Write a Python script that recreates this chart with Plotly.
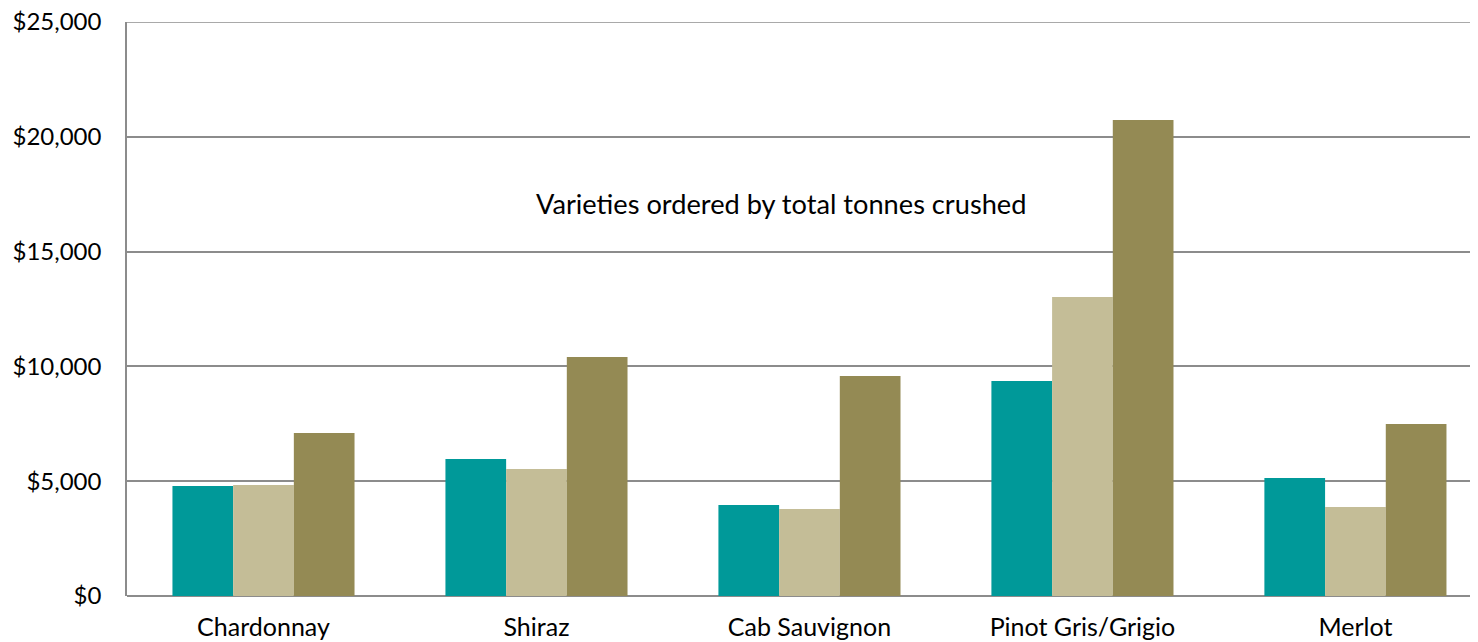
import plotly.graph_objects as go

categories = ["Chardonnay", "Shiraz", "Cab Sauvignon", "Pinot Gris/Grigio", "Merlot"]
series_names = ["Series 1", "Series 2", "Series 3"]
series1 = [4790, 5970, 3960, 9360, 5140]
series2 = [4830, 5530, 3790, 13020, 3880]
series3 = [7100, 10410, 9580, 20730, 7490]
colors = ["#009999", "#C4BD97", "#948A54"]
y_ticks = [0, 5000, 10000, 15000, 20000, 25000]
y_max = 25000
annotation_text = "Varieties ordered by total tonnes crushed"

fig = go.Figure()
for name, vals, col in zip(series_names, [series1, series2, series3], colors):
    fig.add_trace(go.Bar(x=categories, y=vals, name=name, marker=dict(color=col, line=dict(width=0))))

fig.update_layout(
    width=1470, height=634,
    margin=dict(l=119, r=0, t=14, b=46),
    barmode="group", bargap=0.333, bargroupgap=0,
    plot_bgcolor="white", paper_bgcolor="white",
    showlegend=False,
    font=dict(family="Lato", color="black"),
    xaxis=dict(range=[-0.5, 4.449], showgrid=False, showline=False, ticks="",
               tickfont=dict(size=25), ticklabelstandoff=14, ticklabeloverflow="allow",
               automargin=False),
    yaxis=dict(range=[0, y_max], tickvals=y_ticks, tickformat="$,.0f",
               showgrid=True, gridcolor="#8C8C8C", gridwidth=1.5,
               showline=True, linecolor="#8C8C8C", linewidth=1.5,
               zeroline=True, zerolinecolor="#8C8C8C", zerolinewidth=1.5,
               ticks="", tickfont=dict(size=24), ticklabelstandoff=19,
               ticklabeloverflow="allow", automargin=False),
    shapes=[dict(type="line", xref="paper", yref="y", x0=0, x1=1, y0=y_max, y1=y_max,
                 line=dict(color="#8C8C8C", width=1.5), layer="below")],
    annotations=[dict(text=annotation_text, xref="paper", yref="y", x=(781-127)/1351, y=17100,
                      showarrow=False, font=dict(size=27.2), xanchor="center", yanchor="middle")],
)
fig.write_html("out.html")
